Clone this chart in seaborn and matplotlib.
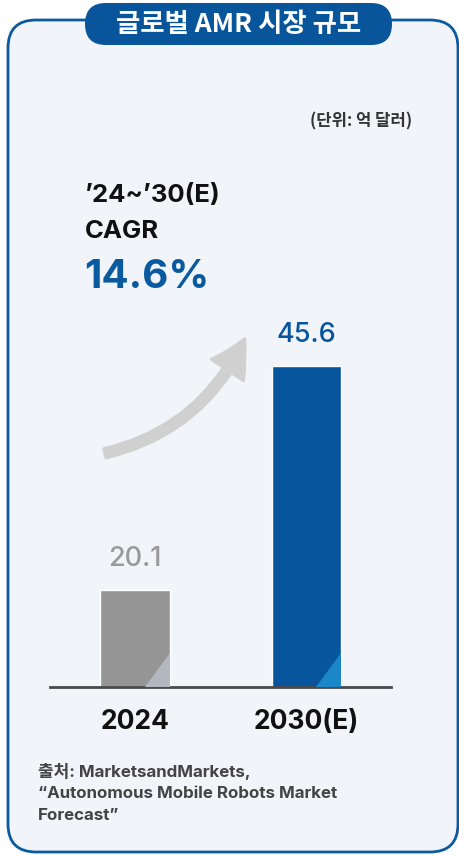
import numpy as np
import pandas as pd
import seaborn as sns
import matplotlib.pyplot as plt
from matplotlib.patches import FancyBboxPatch, FancyArrowPatch, Polygon

# data
years = ["2024", "2030(E)"]
market_size = [20.1, 45.6]          # 억 달러
bar_colors = ["#959595", "#07559d"]
corner_colors = ["#b3b7bf", "#1b86c8"]
label_colors = ["#999999", "#07559d"]
title = "글로벌 AMR 시장 규모"
unit = "(단위: 억 달러)"
cagr_period = "\u201924~\u201930(E)"
cagr_label = "CAGR"
cagr_value = "14.6%"
source_lines = ["출처: MarketsandMarkets,",
                "\u201cAutonomous Mobile Robots Market",
                "Forecast\u201d"]

sns.set_theme(style="white")
plt.rcParams['font.family'] = ['Inter', 'Noto Sans CJK KR', 'DejaVu Sans']
kr = ['Noto Sans CJK KR', 'DejaVu Sans']

W, H = 459, 856
fig = plt.figure(figsize=(W / 100, H / 100), dpi=100)
fig.patch.set_facecolor("white")

# background / decoration layer in pixel units
bg = fig.add_axes([0, 0, 1, 1], zorder=0)
bg.set_xlim(0, W)
bg.set_ylim(H, 0)
bg.axis("off")

card = FancyBboxPatch((8, 20), 450, 832, boxstyle="round,pad=0,rounding_size=28",
                      facecolor="#f1f4f9", edgecolor="#0b5aa0", linewidth=2)
bg.add_patch(card)
pill = FancyBboxPatch((85, 3), 307, 42, boxstyle="round,pad=0,rounding_size=21",
                      facecolor="#08559c", edgecolor="none")
bg.add_patch(pill)
bg.text(238.5, 24, title, ha="center", va="center", color="white",
        fontsize=19, fontweight="bold", family=kr)

bg.text(412, 121, unit, ha="right", va="center", color="#333333",
        fontsize=12, fontweight="bold", family=kr)

bg.text(85, 195, cagr_period, ha="left", va="center", color="#111111",
        fontsize=18.5, fontweight="bold")
bg.text(85, 231, cagr_label, ha="left", va="center", color="#111111",
        fontsize=18.5, fontweight="bold")
bg.text(84, 277, cagr_value, ha="left", va="center", color="#0a5aa0",
        fontsize=29, fontweight="bold")

arrow = FancyArrowPatch((102, 454), (246, 336), connectionstyle="arc3,rad=0.25",
                        arrowstyle="simple,head_length=26,head_width=28,tail_width=7",
                        mutation_scale=1, facecolor="#d0d0d0", edgecolor="#d0d0d0",
                        linewidth=2, joinstyle="round", capstyle="round")
bg.add_patch(arrow)

for i, line in enumerate(source_lines):
    bg.text(38, 771 + i * 22.5, line, ha="left", va="center", color="#444444",
            fontsize=12.2, fontweight="bold", family=['Inter', 'Noto Sans CJK KR'])

# bar chart
df = pd.DataFrame({"year": years, "size": market_size})
ax = fig.add_axes([50 / W, 1 - 687 / H, 341 / W, 387 / H], zorder=1)
ax.patch.set_alpha(0)
sns.barplot(data=df, x="year", y="size", hue="year", palette=bar_colors,
            width=0.408, saturation=1, legend=False, ax=ax)
ax.set_xlim(-0.496, 1.493)
ax.set_ylim(9.06, 53.14)

for bar, cc in zip(ax.patches, corner_colors):
    x0 = bar.get_x()
    w = bar.get_width()
    y0 = ax.get_ylim()[0]
    tri = Polygon([(x0 + w * 0.64, y0), (x0 + w, y0), (x0 + w, y0 + 3.9)],
                  closed=True, facecolor=cc, edgecolor="none", zorder=3)
    ax.add_patch(tri)

for cont, c in zip(ax.containers, label_colors):
    ax.bar_label(cont, fmt="%.1f", padding=13, color=c, fontsize=19.5, fontweight="medium")

ax.set_xlabel("")
ax.set_ylabel("")
ax.set_yticks([])
for s in ["top", "right", "left"]:
    ax.spines[s].set_visible(False)
ax.spines["bottom"].set_color("#4a4a4a")
ax.spines["bottom"].set_linewidth(2)
ax.tick_params(axis="x", length=0, pad=16, labelsize=19, labelcolor="#111111")
for t in ax.get_xticklabels():
    t.set_fontweight("bold")

fig.savefig("out.png", dpi=100)
